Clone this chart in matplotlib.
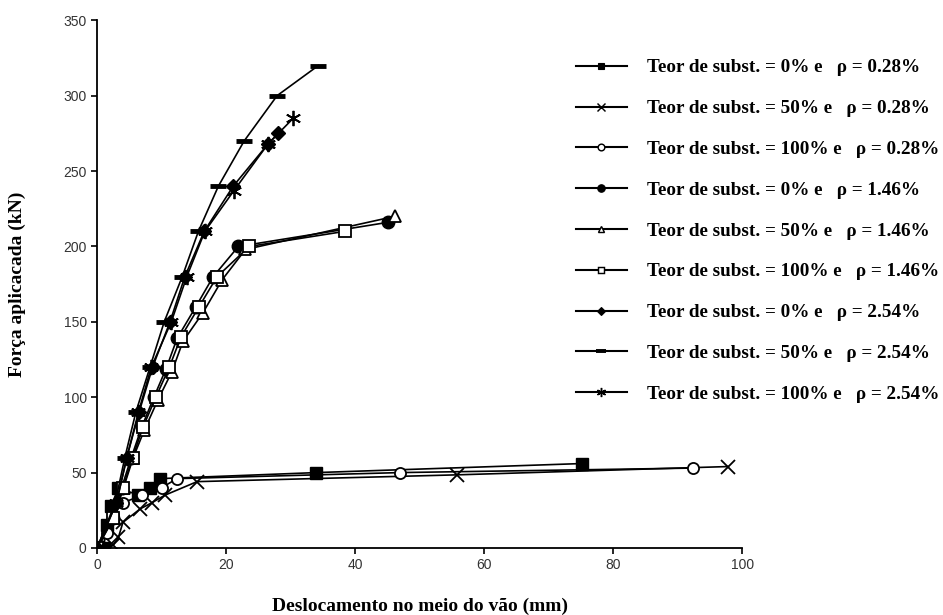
import numpy as np
import matplotlib.pyplot as plt
from matplotlib.lines import Line2D

# deslocamento (mm) / forca (kN) for each beam
x_0_028 = [0, 1, 1.5, 2.2, 3.3, 6.4, 8.2, 9.8, 34, 75.2]
y_0_028 = [0, 0, 15, 28, 40, 35, 40, 46, 50, 56]

x_50_028 = [0, 2.5, 3.3, 4, 6.7, 8.5, 10.5, 15.5, 55.8, 97.8]
y_50_028 = [0, 2, 7, 17, 26, 30, 35, 44, 48.5, 54]

x_100_028 = [0, 1.5, 2.5, 4, 7, 10, 12.4, 47, 92.4]
y_100_028 = [0, 10, 22, 30, 35, 40, 46, 50, 53]

x_0_146 = [0, 2.4, 3.8, 5.3, 6.9, 8.8, 10.7, 12.4, 15.3, 18, 21.9, 45.1]
y_0_146 = [0, 20, 40, 60, 80, 100, 119, 139, 160, 180, 200, 216]

x_50_146 = [0, 2.6, 4.1, 5.6, 7.3, 9.4, 11.6, 13.3, 16.4, 19.4, 23, 46.2]
y_50_146 = [0, 20, 40, 60, 78, 98, 117, 137, 156, 178, 198, 220]

x_100_146 = [0, 2.5, 4, 5.5, 7.1, 9.1, 11.2, 13, 15.8, 18.6, 23.6, 38.4]
y_100_146 = [0, 20, 40, 60, 80, 100, 120, 140, 160, 180, 200, 210]

x_0_254 = [0, 3.0, 4.6, 6.5, 8.6, 11.3, 13.6, 16.6, 21.1, 26.5, 28.1]
y_0_254 = [0, 30, 60, 90, 120, 150, 180, 210, 240, 268, 275]

x_50_254 = [0, 2.8, 4.3, 6.0, 8.2, 10.4, 13.2, 15.7, 18.8, 22.8, 27.9, 34.3]
y_50_254 = [0, 30, 60, 90, 120, 150, 180, 210, 240, 270, 300, 320]

x_100_254 = [0, 3.0, 4.6, 6.4, 8.4, 11.5, 13.9, 16.7, 21.2, 26.5, 30.4]
y_100_254 = [0, 30, 60, 90, 120, 150, 180, 210, 237, 268, 285]

labels = ["Teor de subst. = 0% e   \u03c1 = 0.28%",
          "Teor de subst. = 50% e   \u03c1 = 0.28%",
          "Teor de subst. = 100% e   \u03c1 = 0.28%",
          "Teor de subst. = 0% e   \u03c1 = 1.46%",
          "Teor de subst. = 50% e   \u03c1 = 1.46%",
          "Teor de subst. = 100% e   \u03c1 = 1.46%",
          "Teor de subst. = 0% e   \u03c1 = 2.54%",
          "Teor de subst. = 50% e   \u03c1 = 2.54%",
          "Teor de subst. = 100% e   \u03c1 = 2.54%"]

series = [(x_0_028, y_0_028), (x_50_028, y_50_028), (x_100_028, y_100_028),
          (x_0_146, y_0_146), (x_50_146, y_50_146), (x_100_146, y_100_146),
          (x_0_254, y_0_254), (x_50_254, y_50_254), (x_100_254, y_100_254)]

# marker, filled?, size, edge width
styles = [('s', True, 8, 1.0),
          ('x', True, 10, 1.3),
          ('o', False, 8, 1.3),
          ('o', True, 9, 1.0),
          ('^', False, 8, 1.3),
          ('s', False, 8, 1.3),
          ('D', True, 7, 1.0),
          ('_', True, 11, 3.5),
          ((6, 2, 0), True, 11, 1.3)]

fig = plt.figure(figsize=(9.43, 6.15), dpi=100)
ax = fig.add_axes([0.103, 0.109, 0.684, 0.858])

for (xs, ys), (m, filled, ms, mew) in zip(series, styles):
    ax.plot(xs, ys, color='black', lw=1.2, marker=m, ms=ms, mew=mew,
            mfc='black' if filled else 'white', mec='black')

ax.set_xlim(0, 100)
ax.set_ylim(0, 350)
ax.set_xticks(np.arange(0, 101, 20))
ax.set_yticks(np.arange(0, 351, 50))
for s in ['top', 'right']:
    ax.spines[s].set_visible(False)
ax.spines['left'].set_linewidth(1.3)
ax.spines['bottom'].set_linewidth(1.3)
ax.tick_params(direction='out', length=4, width=1.2, labelsize=10,
               labelcolor='#333333')
for t in ax.get_xticklabels() + ax.get_yticklabels():
    t.set_family('Liberation Sans')

ax.set_xlabel("Deslocamento no meio do v\u00e3o (mm)", family='Liberation Serif',
              fontweight='bold', fontsize=14, labelpad=18)
ax.set_ylabel("For\u00e7a aplicacada (kN)", family='Liberation Serif',
              fontweight='bold', fontsize=14, labelpad=27)

handles = []
for (m, filled, ms, mew) in styles:
    handles.append(Line2D([], [], color='black', lw=1.5, marker=m,
                          ms=ms * 0.6, mew=mew * 0.8,
                          mfc='black' if filled else 'white', mec='black'))
fig.legend(handles, labels, loc='upper left', bbox_to_anchor=(0.592, 0.932),
           frameon=False, handlelength=2.7, handletextpad=1.04,
           labelspacing=1.22,
           prop={'family': 'Liberation Serif', 'weight': 'bold', 'size': 13.8})

fig.savefig('out.png', dpi=100)
